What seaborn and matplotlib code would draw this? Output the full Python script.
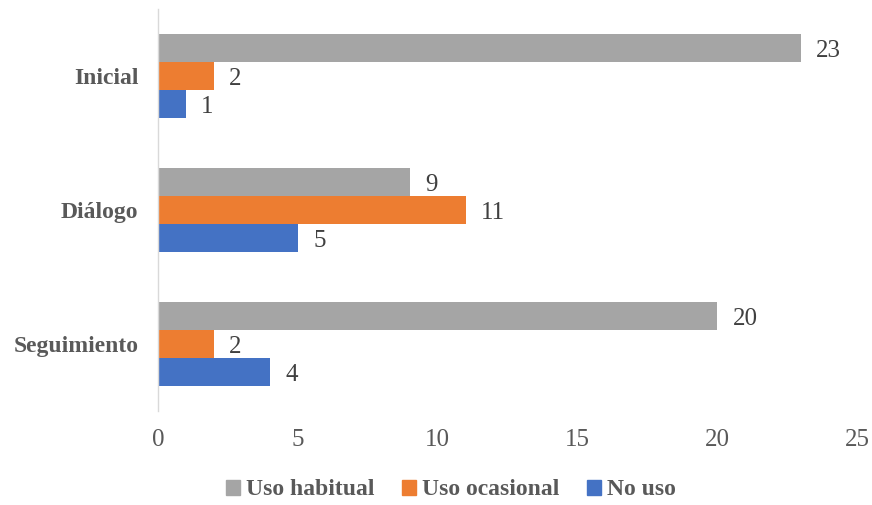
import matplotlib
matplotlib.use("Agg")
import matplotlib.pyplot as plt
import matplotlib.patches as mpatches
import pandas as pd
import seaborn as sns

# Categories and series values
etapas = ["Inicial", "Diálogo", "Seguimiento"]
series = ["Uso habitual", "Uso ocasional", "No uso"]
uso_habitual = [23, 9, 20]
uso_ocasional = [2, 11, 2]
no_uso = [1, 5, 4]
x_ticks = [0, 5, 10, 15, 20, 25]

colores = {"Uso habitual": "#A5A5A5", "Uso ocasional": "#ED7D31", "No uso": "#4472C4"}

rows = []
for serie, valores in zip(series, [uso_habitual, uso_ocasional, no_uso]):
    for etapa, v in zip(etapas, valores):
        rows.append({"Etapa": etapa, "Serie": serie, "Valor": v})
df = pd.DataFrame(rows)

sns.set_theme(style="white")
plt.rcParams["font.family"] = ["Liberation Serif", "DejaVu Serif"]

fig = plt.figure(figsize=(8.72, 5.05), dpi=100)
ax = fig.add_axes([158 / 872, 94 / 505, 699 / 872, 402 / 505])

sns.barplot(
    data=df, y="Etapa", x="Valor", hue="Serie",
    order=etapas, hue_order=series, palette=colores,
    orient="h", width=0.627, saturation=1, linewidth=0,
    ax=ax, legend=False,
)

for cont in ax.containers:
    anns = ax.bar_label(cont, fmt="%d", padding=11, fontsize=18, color="#404040")
    for a in anns:
        a.xyann = (11, -2.0)

ax.set_xlim(0, 25)
ax.set_ylim(2.5, -0.5)
ax.set_xticks(x_ticks)
ax.set_xlabel("")
ax.set_ylabel("")
ax.tick_params(axis="x", labelsize=18, colors="#595959", pad=13, length=0)
ax.tick_params(axis="y", labelsize=17, colors="#595959", pad=14, length=0)
for lab in ax.get_yticklabels():
    lab.set_fontweight("bold")

for side in ["top", "right", "bottom"]:
    ax.spines[side].set_visible(False)
ax.spines["left"].set_color("#D9D9D9")
ax.spines["left"].set_linewidth(1.0)
ax.grid(False)

handles = [mpatches.Patch(color=colores[s], label=s) for s in series]
fig.legend(
    handles=handles, loc="center", bbox_to_anchor=(0.517, 0.03), ncol=3,
    frameon=False, handlelength=0.6, handleheight=0.6, handletextpad=0.25,
    columnspacing=1.15, prop={"size": 17, "weight": "bold"}, labelcolor="#595959",
)

fig.savefig("out.png", dpi=100)
